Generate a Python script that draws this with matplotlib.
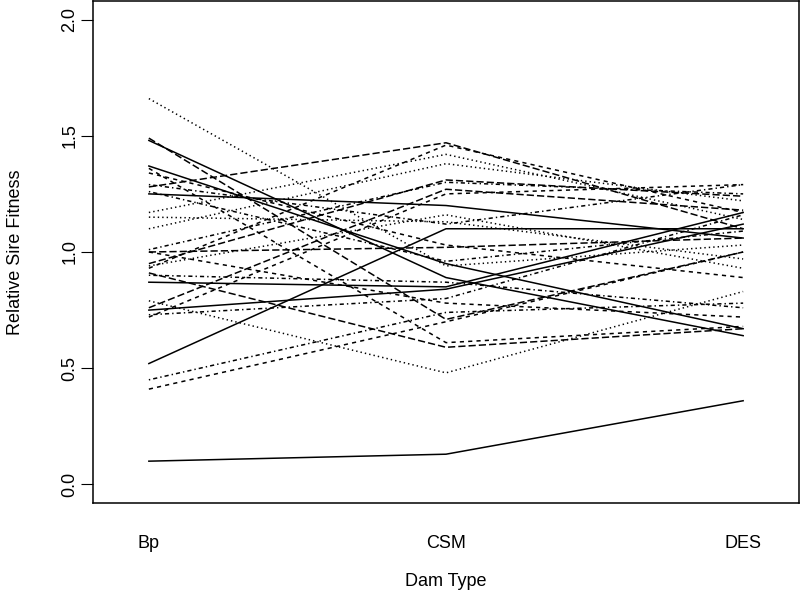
import matplotlib
matplotlib.use("Agg")
import matplotlib.pyplot as plt

plt.rcParams['font.family'] = ['Liberation Sans', 'DejaVu Sans']
plt.rcParams['lines.scale_dashes'] = False

dam_types = ["Bp", "CSM", "DES"]

# relative sire fitness per sire at Bp, CSM, DES
sires = [
    [0.10, 0.13, 0.36],
    [0.41, 0.70, 1.00],
    [1.66, 0.94, 1.03],
    [0.45, 0.74, 0.78],
    [1.28, 1.47, 1.10],
    [1.48, 0.89, 0.64],
    [1.36, 0.61, 0.68],
    [1.17, 1.42, 1.14],
    [1.29, 1.12, 1.29],
    [1.49, 0.71, 1.00],
    [0.52, 1.10, 1.10],
    [1.34, 1.03, 0.89],
    [1.10, 1.38, 1.22],
    [0.90, 0.87, 0.76],
    [0.95, 1.31, 1.24],
    [1.25, 1.20, 1.06],
    [0.93, 1.46, 1.17],
    [0.79, 0.48, 0.83],
    [1.01, 1.30, 1.25],
    [0.91, 0.59, 0.67],
    [0.87, 0.85, 1.17],
    [1.00, 0.78, 0.72],
    [1.15, 1.13, 0.97],
    [1.26, 0.96, 1.09],
    [0.76, 1.27, 1.18],
    [1.37, 0.95, 0.67],
    [0.72, 1.25, 1.29],
    [0.94, 1.16, 0.93],
    [0.73, 0.80, 1.16],
    [1.00, 1.02, 1.06],
    [0.75, 0.84, 1.12],
]

# R lty 1:5 -> solid, dashed, dotted, dotdash, longdash
ltys = ['-', (0, (3.0, 3.0)), (0, (1.0, 2.2)), (0, (1.0, 2.2, 3.0, 2.2)), (0, (5.2, 2.2))]

fig = plt.figure(figsize=(8, 6.02), dpi=100)
ax = fig.add_axes([93 / 800, 1 - 503 / 602, 706 / 800, 502 / 602])

xs = [1, 2, 3]
for i, s in enumerate(sires):
    ax.plot(xs, s, color='black', lw=1.1, linestyle=ltys[i % 5])

ax.set_xlim(0.812, 3.188)
ax.set_ylim(-0.08, 2.08)
ax.set_xticks(xs)
ax.set_xticklabels(dam_types)
ax.set_yticks([0.0, 0.5, 1.0, 1.5, 2.0])
ax.set_yticklabels(["0.0", "0.5", "1.0", "1.5", "2.0"], rotation=90, va='center')
ax.tick_params(axis='x', length=0, pad=23, labelsize=13)
ax.tick_params(axis='y', length=8.6, width=0.8, pad=2, labelsize=13)
for sp in ax.spines.values():
    sp.set_linewidth(1.1)

ax.set_xlabel("Dam Type", fontsize=13, labelpad=15)
ax.set_ylabel("Relative Sire Fitness", fontsize=13, labelpad=27)

fig.savefig("out.png", dpi=100)
